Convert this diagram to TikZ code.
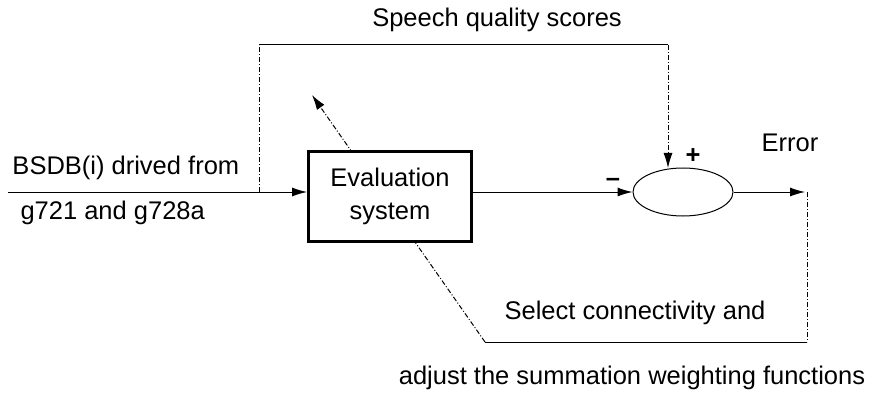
\documentclass[tikz,border=0pt]{standalone}
\usepackage{fontspec}
\setmainfont{Liberation Sans}
\usetikzlibrary{arrows.meta,shapes.geometric,positioning}
\tikzset{
  fb/.style={dash pattern=on 5pt off 2pt on 1pt off 2pt},
  lbl/.style={inner sep=0pt}
}

\begin{document}
\begin{tikzpicture}[x=1pt,y=-1pt,line width=1pt,font=\fontsize{25.5}{30}\selectfont,
  >={Latex[length=15pt,width=9pt]}]
\useasboundingbox (0,0) rectangle (874,398);
\coordinate (in) at (8,192);
\coordinate (tap) at (259,192);
\coordinate (tl) at (259,45);
\coordinate (tr) at (668,45);
\coordinate (plus) at (668,168);
\coordinate (out) at (805,192);
\coordinate (br) at (807,342);
\coordinate (bl) at (485,342);
\coordinate (adj) at (312,95);
% adjustment arrow passes behind the box
\draw[fb,->] (bl) -- (adj);
\node[draw,line width=3pt,fill=white,minimum width=163pt,minimum height=90pt,
  align=center,font=\fontsize{25.5}{33}\selectfont] (eval) at (390,196.5) {Evaluation\\system};
\node[draw,ellipse,minimum width=100pt,minimum height=48pt] (sum) at (683,192) {};
\draw[->] (in) -- (in -| eval.west);
\draw[->] (eval.east |- sum) -- (sum.west);
\draw[->] (sum.east) -- (out);
\draw[fb] (tap) -- (tl);
\draw (tl) -- (tr);
\draw[fb,->] (tr) -- (plus);
\draw[fb] (out |- sum) ++(2pt,0) coordinate (o2) -- (o2 |- br);
\draw (br) -- (bl);
\node[lbl] (t1) at (497,20) {Speech quality scores};
\node[lbl,anchor=west] (t2) at (12,168) {BSDB(i) drived from};
\node[lbl,anchor=west] (t3) at (20,213) {g721 and g728a};
\node[lbl,font=\bfseries\fontsize{25.5}{30}\selectfont] (m) at (613,182) {--};
\node[lbl,font=\bfseries\fontsize{25.5}{30}\selectfont] (p) at (693,156) {+};
\node[lbl] (e) at (790,143) {Error};
\node[lbl] (t4) at (635,313) {Select connectivity and};
\node[lbl] (t5) at (632,378) {adjust the summation weighting functions};
\end{tikzpicture}
\end{document}
